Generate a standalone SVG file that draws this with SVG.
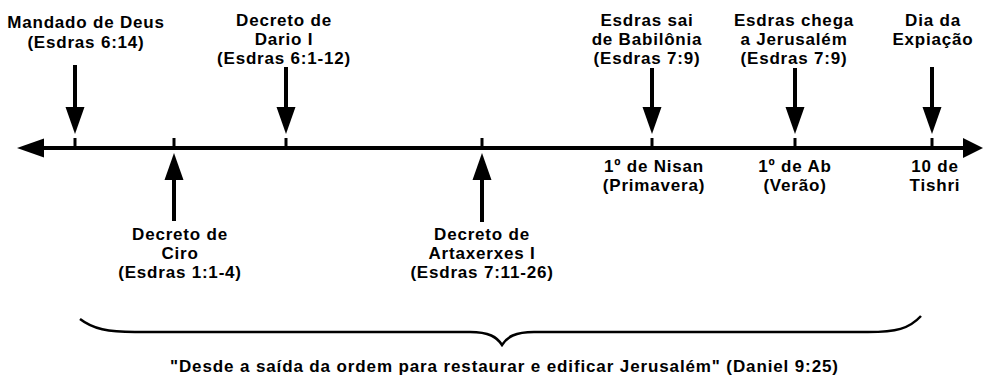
<svg xmlns="http://www.w3.org/2000/svg" width="983" height="380" viewBox="0 0 983 380">
<defs>
<style>
text{font-family:"Liberation Sans",Arial,Helvetica,sans-serif;font-weight:bold;font-size:17px;fill:#000;text-anchor:middle;letter-spacing:0.8px}
.shaft{stroke:#000;stroke-width:4;fill:none}
.tick{stroke:#000;stroke-width:3}
.head{fill:#000}
.brace{stroke:#000;stroke-width:2.5;fill:none}
</style>
<marker id="ah" markerUnits="userSpaceOnUse" markerWidth="28" markerHeight="20" refX="0" refY="9.5" orient="auto" viewBox="0 0 28 19">
<path d="M0,0 L27,9.5 L0,19 Z" class="head"/>
</marker>
</defs>
<rect width="983" height="380" fill="#fff"/>

<g id="timeline">
<line class="shaft" x1="42" y1="148" x2="965" y2="148"/>
<polygon class="head" points="17,148 44,138.5 44,157.5"/>
<polygon class="head" points="983,148 963,138 963,158"/>
<line class="tick" x1="75" y1="138" x2="75" y2="148"/>
<line class="tick" x1="174" y1="138" x2="174" y2="148"/>
<line class="tick" x1="286" y1="138" x2="286" y2="148"/>
<line class="tick" x1="482" y1="138" x2="482" y2="148"/>
<line class="tick" x1="652" y1="138" x2="652" y2="148"/>
<line class="tick" x1="795" y1="138" x2="795" y2="148"/>
<line class="tick" x1="932" y1="138" x2="932" y2="148"/>
</g>

<g id="connectors">
<line class="shaft" x1="75" y1="65" x2="75" y2="107" marker-end="url(#ah)"/>
<line class="shaft" x1="286" y1="67" x2="286" y2="107" marker-end="url(#ah)"/>
<line class="shaft" x1="652" y1="68" x2="652" y2="107" marker-end="url(#ah)"/>
<line class="shaft" x1="795" y1="68" x2="795" y2="107" marker-end="url(#ah)"/>
<line class="shaft" x1="932" y1="67" x2="932" y2="107" marker-end="url(#ah)"/>
<line class="shaft" x1="174" y1="221" x2="174" y2="180" marker-end="url(#ah)"/>
<line class="shaft" x1="482" y1="222" x2="482" y2="180" marker-end="url(#ah)"/>
</g>

<g id="mandado">
<text x="86" y="28">Mandado de Deus</text>
<text x="86" y="48">(Esdras 6:14)</text>
</g>
<g id="dario">
<text x="284" y="26">Decreto de</text>
<text x="284" y="45">Dario I</text>
<text x="284" y="64">(Esdras 6:1-12)</text>
</g>
<g id="esdras-sai">
<text x="647" y="26">Esdras sai</text>
<text x="647" y="45">de Babilônia</text>
<text x="647" y="64">(Esdras 7:9)</text>
</g>
<g id="esdras-chega">
<text x="794" y="26">Esdras chega</text>
<text x="794" y="45">a Jerusalém</text>
<text x="794" y="64">(Esdras 7:9)</text>
</g>
<g id="expiacao">
<text x="933" y="26">Dia da</text>
<text x="933" y="45">Expiação</text>
</g>
<g id="nisan">
<text x="654" y="172">1º de Nisan</text>
<text x="654" y="191">(Primavera)</text>
</g>
<g id="ab">
<text x="795" y="172">1º de Ab</text>
<text x="795" y="191">(Verão)</text>
</g>
<g id="tishri">
<text x="935" y="172">10 de</text>
<text x="935" y="191">Tishri</text>
</g>
<g id="ciro">
<text x="180" y="240">Decreto de</text>
<text x="180" y="259">Ciro</text>
<text x="180" y="278">(Esdras 1:1-4)</text>
</g>
<g id="artaxerxes">
<text x="482" y="240">Decreto de</text>
<text x="482" y="259">Artaxerxes I</text>
<text x="482" y="278">(Esdras 7:11-26)</text>
</g>

<g id="brace-label">
<path class="brace" d="M80,319 C93,329 108,332 135,332 L470,332 C489,332 497,337 502,345 C507,337 515,332 534,332 L868,332 C896,332 909,329 921,316"/>
<text x="504" y="372" textLength="668" lengthAdjust="spacing" style="letter-spacing:0">"Desde a saída da ordem para restaurar e edificar Jerusalém" (Daniel 9:25)</text>
</g>
</svg>
